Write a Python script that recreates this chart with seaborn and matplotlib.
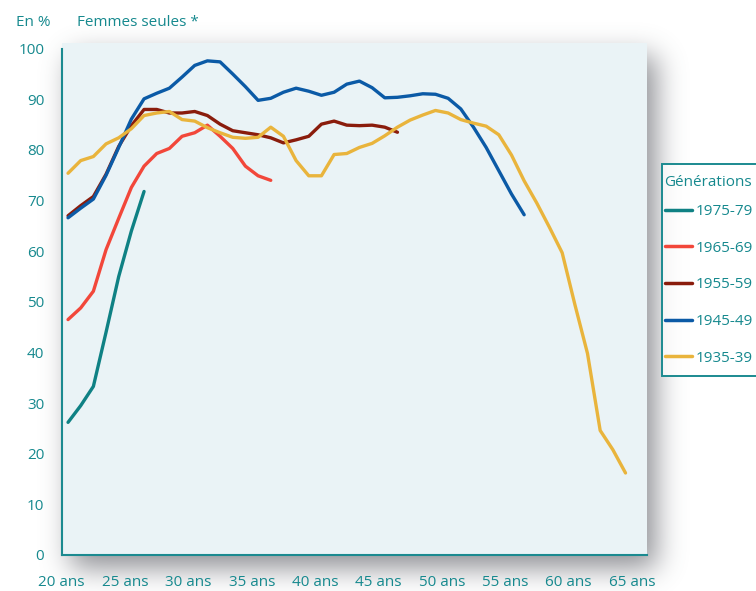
import numpy as np
import pandas as pd
import matplotlib
matplotlib.use("Agg")
import matplotlib.pyplot as plt
from matplotlib.patches import Rectangle
import seaborn as sns

# Age (mid-year) at which each share is measured
ages = [20.5, 21.5, 22.5, 23.5, 24.5, 25.5, 26.5, 27.5, 28.5, 29.5,
        30.5, 31.5, 32.5, 33.5, 34.5, 35.5, 36.5, 37.5, 38.5, 39.5,
        40.5, 41.5, 42.5, 43.5, 44.5, 45.5, 46.5, 47.5, 48.5, 49.5,
        50.5, 51.5, 52.5, 53.5, 54.5, 55.5, 56.5, 57.5, 58.5, 59.5,
        60.5, 61.5, 62.5, 63.5, 64.5]

# Share of single women (%) by birth cohort
gen_1975_79 = [26.2, 29.5, 33.3, 44.0, 55.0, 64.0, 71.8]
gen_1965_69 = [46.5, 48.8, 52.1, 60.3, 66.5, 72.6, 76.8, 79.3, 80.3, 82.7,
               83.4, 84.9, 82.7, 80.3, 76.8, 74.9, 74.0]
gen_1955_59 = [67.0, 69.0, 70.8, 75.2, 80.7, 84.8, 88.0, 88.0, 87.3, 87.3,
               87.6, 86.8, 85.1, 83.8, 83.4, 83.0, 82.4, 81.4, 82.0, 82.7,
               85.1, 85.7, 84.9, 84.8, 84.9, 84.5, 83.5]
gen_1945_49 = [66.6, 68.5, 70.3, 75.0, 80.5, 86.1, 90.1, 91.2, 92.2, 94.4,
               96.7, 97.6, 97.4, 95.0, 92.5, 89.8, 90.2, 91.4, 92.2, 91.6,
               90.8, 91.4, 93.0, 93.6, 92.3, 90.3, 90.4, 90.7, 91.1, 91.0,
               90.2, 88.1, 84.5, 80.5, 75.9, 71.3, 67.2]
gen_1935_39 = [75.4, 77.9, 78.7, 81.2, 82.4, 84.2, 86.8, 87.3, 87.6, 86.0,
               85.7, 84.4, 83.4, 82.5, 82.3, 82.5, 84.5, 82.7, 77.9, 74.9,
               74.9, 79.1, 79.3, 80.5, 81.3, 82.8, 84.5, 85.9, 86.9, 87.8,
               87.3, 86.0, 85.3, 84.7, 83.0, 79.0, 73.9, 69.5, 64.7, 59.7,
               49.5, 39.8, 24.6, 20.8, 16.2]

generations = ["1975-79", "1965-69", "1955-59", "1945-49", "1935-39"]
series = [gen_1975_79, gen_1965_69, gen_1955_59, gen_1945_49, gen_1935_39]
colors = ["#0f8184", "#f2473a", "#8a1c0c", "#0b5aa6", "#e9b43c"]

x_ticks = [20, 25, 30, 35, 40, 45, 50, 55, 60, 65]
x_labels = [f"{t} ans" for t in x_ticks]
y_ticks = [0, 10, 20, 30, 40, 50, 60, 70, 80, 90, 100]

frames = []
for g, vals in zip(generations, series):
    frames.append(pd.DataFrame({"age": ages[:len(vals)], "pct": vals, "gen": g}))
df = pd.concat(frames, ignore_index=True)

sns.set_theme(style="white")
plt.rcParams["font.family"] = ["Open Sans", "DejaVu Sans"]

TEXT = "#16898e"
AXIS = "#1b8a90"
FS = 11

W, H = 756, 591
fig = plt.figure(figsize=(W / 100, H / 100), dpi=100)
fig.patch.set_facecolor("white")

# plot frame in pixel coordinates (from top-left)
px0, px1, py0, py1 = 61.7, 646.7, 43.3, 555.0

# soft drop shadow behind the plot frame
yy, xx = np.mgrid[0:H, 0:W]
mask = ((xx >= px0 + 9) & (xx <= px1 + 9) &
        (yy >= py0 + 12) & (yy <= py1 + 12)).astype(float)


def blur(a, sigma, axis):
    r = int(3 * sigma)
    k = np.exp(-0.5 * (np.arange(-r, r + 1) / sigma) ** 2)
    k /= k.sum()
    return np.apply_along_axis(
        lambda v: np.convolve(np.pad(v, r, mode="edge"), k, mode="valid"), axis, a)


mask = blur(blur(mask, 14, 0), 14, 1)
rgba = np.zeros((H, W, 4))
rgba[..., 0] = 0.33
rgba[..., 1] = 0.34
rgba[..., 2] = 0.37
rgba[..., 3] = 0.66 * mask

bg = fig.add_axes([0, 0, 1, 1], zorder=0)
bg.imshow(rgba, extent=(0, W, H, 0), aspect="auto", interpolation="bilinear")
bg.set_xlim(0, W)
bg.set_ylim(H, 0)
bg.axis("off")

ax = fig.add_axes([px0 / W, 1 - py1 / H, (px1 - px0) / W, (py1 - py0) / H], zorder=1)
ax.set_facecolor("#eaf3f6")

sns.lineplot(data=df, x="age", y="pct", hue="gen", hue_order=generations,
             palette=dict(zip(generations, colors)), estimator=None, sort=False,
             linewidth=2.4, ax=ax)

handles, labels = ax.get_legend_handles_labels()
ax.get_legend().remove()

px_per_year = 12.67
px_per_pct = 5.063
ax.set_xlim(20, 20 + (px1 - px0) / px_per_year)
ax.set_ylim(0, (py1 - py0) / px_per_pct)

ax.set_xticks(x_ticks)
ax.set_xticklabels(x_labels)
ax.set_yticks(y_ticks)
ax.set_yticklabels([str(t) for t in y_ticks])
ax.set_xlabel("")
ax.set_ylabel("")

for side in ["top", "right"]:
    ax.spines[side].set_visible(False)
for side in ["left", "bottom"]:
    ax.spines[side].set_color(AXIS)
    ax.spines[side].set_linewidth(1.5)
ax.spines["left"].set_bounds(0, 100)

ax.tick_params(axis="both", direction="out", length=4.5, width=1.4,
               colors=AXIS, labelcolor=TEXT, labelsize=FS)
ax.tick_params(axis="x", pad=10)
ax.tick_params(axis="y", pad=8)
ax.grid(False)

fig.text(16 / W, 1 - 26.5 / H, "En %", color=TEXT, fontsize=FS, va="baseline", ha="left")
fig.text(77 / W, 1 - 26.5 / H, "Femmes seules *", color=TEXT, fontsize=FS,
         va="baseline", ha="left")

# legend box with its title, then the cohort entries inside it
box = Rectangle((661.7 / W, 1 - 376 / H), (W + 5 - 661.7) / W, (376 - 164) / H,
                transform=fig.transFigure, facecolor=(1, 1, 1, 0.72),
                edgecolor=AXIS, linewidth=1.4, zorder=4)
fig.patches.append(box)
fig.text(664.5 / W, 1 - 182 / H, "Générations", color=TEXT, fontsize=FS,
         va="center", ha="left", zorder=5)

leg = fig.legend(handles, labels, loc="upper left",
                 bbox_to_anchor=(665 / W, 1 - 204 / H), bbox_transform=fig.transFigure,
                 fontsize=FS, labelcolor=TEXT, frameon=False,
                 handlelength=1.75, handletextpad=0.25, labelspacing=1.42,
                 borderpad=0.0, borderaxespad=0, alignment="left")
leg.set_zorder(6)
for h in leg.legend_handles:
    h.set_linewidth(2.5)

fig.savefig("out.png", dpi=100)
